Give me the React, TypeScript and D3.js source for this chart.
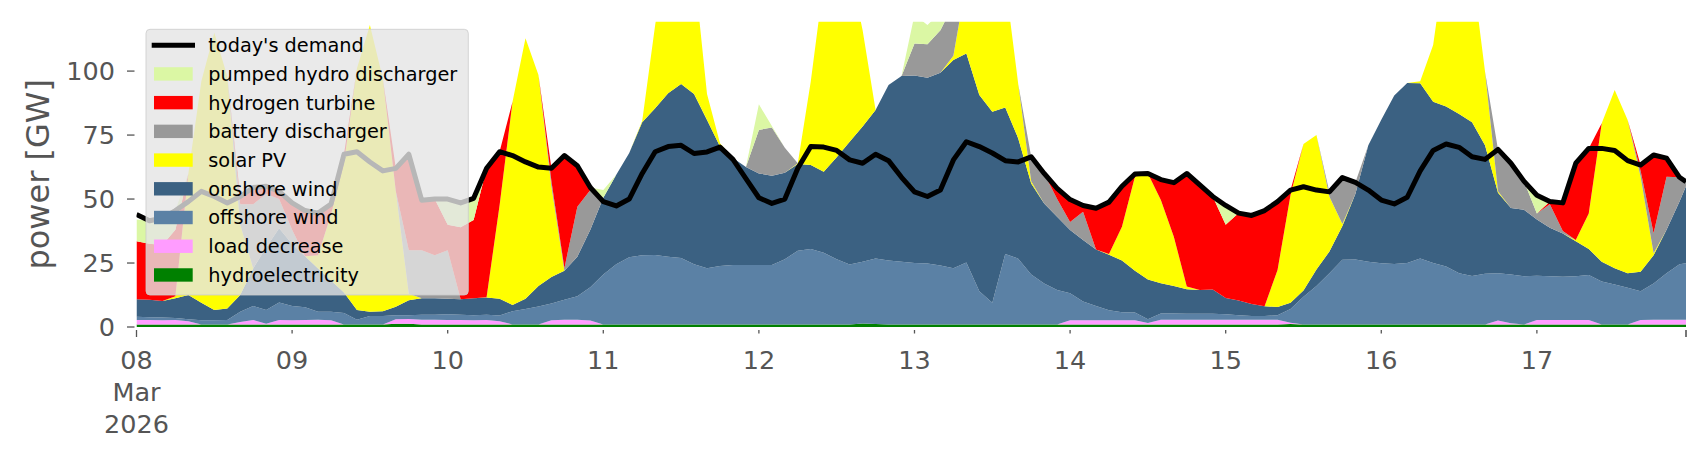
import React from 'react';
import * as d3 from 'd3';

const W = 1706;
const H = 460;
const START = Date.UTC(2026, 2, 8);
// sample hours after 08 Mar 2026 00:00 (2-hourly, plus final hour)
const HOURS: number[] = [...d3.range(0, 240, 2), 239];
const DAY_TICKS: number[] = d3.range(0, 10);
const Y_TICKS: number[] = [0, 25, 50, 75, 100];
const Y_MAX = 119.3;

const hydroelectricity = [
  1, 1, 1, 1, 1, 1, 1, 1, 1, 1, 1, 1,
  1, 1, 1, 1, 1, 1, 1, 1, 1.3, 1.3, 1, 1,
  1, 1, 1, 1, 1, 1, 1, 1, 1, 1, 1, 1,
  1, 1, 1, 1, 1, 1, 1, 1, 1, 1, 1, 1,
  1, 1, 1, 1, 1, 1, 1, 1, 1.4, 1.2, 1, 1,
  1, 1, 1, 1, 1, 1, 1, 1, 1, 1, 1, 1,
  1, 1, 1, 1, 1, 1, 1, 1, 1, 1, 1, 1,
  1, 1, 1, 1, 1, 1.2, 1, 1, 1, 1, 1, 1,
  1, 1, 1, 1, 1, 1, 1, 1, 1, 1, 1, 1,
  1, 1, 1, 1, 1, 1, 1, 1, 1, 1, 1, 1, 1,
];
const loadDecrease = [
  1.7, 1.7, 1.6, 1.7, 1.2, 0, 0, 0, 1.0, 1.7, 0.3, 1.7,
  1.6, 1.7, 1.8, 1.6, 0, 0, 0, 0, 1.7, 1.8, 1.8, 1.8,
  1.7, 1.7, 1.6, 1.7, 1.2, 0, 0, 0, 1.6, 1.8, 1.8, 1.5,
  0, 0, 0, 0, 0, 0, 0, 0, 0, 0, 0, 0,
  0, 0, 0, 0, 0, 0, 0, 0, 0, 0, 0, 0,
  0, 0, 0, 0, 0, 0, 0, 0, 0, 0, 0, 0,
  1.6, 1.6, 1.6, 1.6, 1.6, 1.6, 0.6, 1.8, 1.8, 1.8, 1.8, 1.8,
  1.8, 1.8, 1.8, 1.8, 1.8, 0.5, 0, 0, 0, 0, 0, 0,
  0, 0, 0, 0, 0, 0, 0, 0, 0, 1.5, 0.5, 0,
  1.7, 1.7, 1.7, 1.7, 1.7, 0, 0, 0, 1.7, 1.8, 1.8, 1.8, 1.8,
];
const offshoreWind = [
  1.3, 1.1, 1.1, 0.8, 0.8, 1.6, 1.6, 1.7, 4.0, 5.5, 5.3, 6.9,
  5.6, 5.0, 3.2, 3.4, 4.5, 1.8, 3.3, 3.3, 1.6, 1.5, 2.0, 2.0,
  2.3, 2.1, 2.0, 2.1, 2.3, 5.2, 6, 7, 6.6, 7.8, 9.2, 13,
  19.5, 23.5, 26.3, 27, 27.1, 26.5, 26, 23.5, 22, 22.8, 23.2, 23.2,
  23.2, 23.2, 25.5, 28.8, 29.5, 28, 25.5, 23.4, 24.1, 25.6, 25, 24.5,
  24, 23.8, 23, 22, 24.2, 13, 8.5, 27.5, 25.7, 19.5, 16, 13.5,
  10.6, 7.4, 5.6, 3.9, 3.2, 3.1, 1.4, 2.5, 2.5, 2.4, 2.4, 2.4,
  2.2, 1.8, 1.5, 1.5, 1.8, 5.3, 10.8, 15, 20, 25.3, 25.4, 24.5,
  23.9, 23.6, 24, 25.8, 24, 22.6, 20, 18.9, 19.8, 18.5, 19, 18.8,
  17.3, 17.1, 16.9, 17.1, 17.6, 16.8, 15.6, 14.3, 11.3, 14.2, 18.2, 21.7, 22.1,
];
const onshoreWind = [
  6.8, 6.8, 6.5, 7.7, 9.5, 6.9, 4.0, 4.5, 6.5, 14.7, 24.5, 29,
  24.2, 19.9, 16.9, 12.2, 8.0, 3.8, 1.7, 1.9, 3.3, 5.9, 6.4, 6.4,
  6.0, 6.0, 6.6, 6.7, 6.5, 2.4, 4, 8, 10.3, 11.4, 15.5, 22.5,
  30, 35, 40.7, 52, 57.4, 63.8, 68, 66.5, 57.9, 46.7, 41.8, 38.3,
  35.8, 34.9, 33.8, 33.9, 32.8, 31.7, 39.8, 48, 52.8, 58, 68.6, 72.6,
  73.3, 72.6, 75.4, 81.3, 81.7, 76.7, 74.6, 57.3, 47, 35.6, 31.3, 28.6,
  24.7, 24, 22.1, 21.7, 20.2, 16.3, 15.6, 11.8, 10.7, 9.6, 9.3, 9.5,
  6.3, 5.8, 4.7, 3.8, 3.2, 2.5, 2.5, 6.5, 8.5, 13.2, 25.6, 45.5,
  56.1, 65.9, 70.3, 68.4, 63, 62.6, 62.2, 60.1, 50.2, 31.5, 26, 26,
  22, 19, 16.9, 13.7, 10.2, 7.7, 6.4, 5.7, 7.6, 11, 17, 24.5, 30.1,
];
const solarPV = [
  0, 0, 0, 0.8, 47.5, 86.5, 108.4, 90.8, 27.5, 0.1, 0, 0,
  0, 0, 5.1, 25.8, 50.5, 94.4, 112, 90.8, 45.1, 2.5, 0, 0,
  0, 0, 0, 0.1, 36.5, 79.4, 101.8, 82.5, 35.3, 0, 0, 0,
  0, 0, 0, 0.5, 32.5, 58.7, 70, 49, 10.1, 1.3, 0, 0,
  0, 0, 0, 0.3, 32.6, 74.3, 83.7, 67.6, 37.7, 0, 0, 0,
  0, 0, 0, 1.7, 28.1, 59.3, 65.9, 49.2, 21.3, 0.9, 0, 0,
  0, 0, 0, 0.3, 13.2, 36.7, 41.4, 32.5, 19.3, 1, 0, 0,
  0, 0, 0, 0, 14.5, 42.1, 57.2, 52.5, 21.4, 0.7, 0, 0,
  0, 0, 0, 0.8, 22.2, 59.8, 74.8, 60, 28.8, 0.5, 0, 0,
  0, 0, 0, 0.5, 13.9, 54.1, 69.6, 59.9, 37.1, 0.8, 0, 0, 0,
];
const batteryDischarger = [
  0, 0, 0, 0, 0, 0, 0, 0, 8, 25, 20.9, 11.4,
  5.6, 0, 0, 0, 0, 0, 0, 0, 0, 17, 18.8, 16.8,
  19, 0, 0, 0, 0, 0, 0, 0, 2.2, 1, 19.5, 15.5,
  0, 0, 0, 0, 0, 0, 0, 0, 0, 0, 0, 0,
  17, 18.9, 9.7, 0, 0, 0, 0, 0, 0, 0, 0, 0,
  12.5, 13.1, 16.6, 20, 0, 0, 0, 0, 0, 9.5, 11.7, 6.9,
  3.1, 11, 0, 0, 0, 0, 0, 0, 0, 0, 0, 0,
  0, 0, 0, 0, 0, 0, 0, 0, 1.9, 18.2, 4.5, 0,
  0, 0, 0, 0, 0, 0, 0, 0, 0, 16.4, 17.5, 11.2,
  2.4, 9.2, 1, 0, 0, 0, 0, 0, 2.3, 7.8, 20.7, 9.5, 1.8,
];
const hydrogenTurbine = [
  22.7, 21.9, 21.8, 26, 0, 0, 0, 0, 3, 6.5, 3, 3,
  10.5, 17.9, 16.5, 4, 3.5, 0, 0, 0, 9, 37.5, 19.5, 22,
  10, 28.2, 30.6, 50.4, 21, 0, 0, 0, 5, 44, 16, 1,
  0, 0, 0, 0, 0, 0, 0, 0, 0, 0, 0, 0,
  0, 0, 0, 0, 0, 0, 0, 0, 0, 0, 0, 0,
  0, 0, 0, 0, 0, 0, 0, 0, 0, 0, 0, 4.2,
  8.8, 2.5, 16.1, 20.3, 15.8, 1.1, 0, 8, 21.1, 44.2, 41, 36.3,
  28.7, 34.1, 34.6, 37.4, 26.7, 1.9, 0, 0, 0, 0, 0, 0,
  0, 0, 0, 0, 0, 0, 0, 0, 0, 0, 0, 0,
  0, 1, 11, 30, 25.4, 0, 0, 0, 2.3, 30.6, 7.3, 0, 0,
];
const pumpedHydroDischarger = [
  8.5, 9.0, 10.5, 7.5, 0, 0, 0, 0, 0, 0, 0, 0,
  0, 0, 0, 0, 0, 0, 0, 0, 0, 0, 0, 0,
  10, 9.5, 8.5, 0, 0, 0, 0, 0, 0, 0, 0, 0,
  3, 0, 0, 0, 0, 0, 0, 0, 0, 0, 0, 0,
  10, 0.5, 0, 0, 0, 0, 0, 0, 0, 0, 0, 0,
  11.2, 7.5, 7, 0, 0, 0, 0, 0, 0, 0, 0, 0,
  0, 0, 0, 0, 0, 0, 0, 0, 0, 0, 0, 0,
  7.5, 0, 0, 0, 0, 0, 0, 0, 0, 0, 0, 0,
  0, 0, 0, 0, 0, 0, 0, 0, 0, 0, 0, 0,
  7.1, 0, 0, 0, 0, 0, 0, 0, 0, 0, 0, 0, 0,
];
const todaysDemand = [
  44.0, 41.5, 42.5, 45.5, 49, 53, 51, 48.5, 51, 54.5, 55, 53,
  48.5, 45.5, 44.5, 48, 67.5, 68.5, 64.5, 61, 62, 67.5, 49.5, 50,
  50, 48.5, 50.3, 62, 68.5, 67, 64.5, 62.5, 62, 67, 63, 54.5,
  49, 47.3, 50, 60, 68.5, 70.5, 71, 67.8, 68.4, 70.3, 65.5, 58,
  50.5, 48.3, 50, 62, 70.5, 70.3, 69, 65.3, 64, 67.5, 65, 58.5,
  52.8, 51, 53.5, 65.3, 72.4, 70.5, 68, 65, 64.5, 66.5, 60, 54.2,
  49.8, 47.5, 46.4, 48.8, 55, 59.8, 60, 57.6, 56.4, 60, 55.5, 51,
  47.5, 44.5, 43.6, 45.5, 49, 53.5, 54.8, 53.5, 52.8, 58.4, 56.5, 53.5,
  49.6, 48.1, 50.7, 61, 69, 71.5, 70.2, 66.5, 65.5, 69.4, 64, 57,
  51.5, 49, 48.5, 64, 69.8, 69.8, 69, 65, 63.3, 67.2, 66, 58.5, 56.8,
];

const SERIES = [
  { key: 'hydro', label: 'hydroelectricity', color: '#008000', values: hydroelectricity },
  { key: 'load', label: 'load decrease', color: '#ff9cff', values: loadDecrease },
  { key: 'offwind', label: 'offshore wind', color: '#5b81a5', values: offshoreWind },
  { key: 'onwind', label: 'onshore wind', color: '#3b6182', values: onshoreWind },
  { key: 'solar', label: 'solar PV', color: '#ffff00', values: solarPV },
  { key: 'battery', label: 'battery discharger', color: '#999999', values: batteryDischarger },
  { key: 'h2', label: 'hydrogen turbine', color: '#ff0000', values: hydrogenTurbine },
  { key: 'phs', label: 'pumped hydro discharger', color: '#dbf7a4', values: pumpedHydroDischarger },
];

const X0 = 136.5;
const X1 = 1686;
const Y0 = 327;
const Y1 = 21.7;
const FONT = 'DejaVu Sans, sans-serif';
const TICK_COLOR = '#555555';

export default function App() {
  const times = HOURS.map((h) => new Date(START + h * 3600e3));
  const x = d3.scaleUtc().domain([times[0], times[times.length - 1]]).range([X0, X1]);
  const y = d3.scaleLinear().domain([0, Y_MAX]).range([Y0, Y1]);

  const rows = HOURS.map((_, i) => {
    const r: Record<string, number> = { i };
    SERIES.forEach((s) => (r[s.key] = s.values[i]));
    return r;
  });
  const stacked = d3.stack<Record<string, number>>().keys(SERIES.map((s) => s.key))(rows);
  const area = d3
    .area<d3.SeriesPoint<Record<string, number>>>()
    .x((d) => x(times[d.data.i]))
    .y0((d) => y(d[0]))
    .y1((d) => y(d[1]))
    .curve(d3.curveLinear);
  const line = d3
    .line<number>()
    .x((_, i) => x(times[i]))
    .y((d) => y(d))
    .curve(d3.curveLinear);

  const dayTimes = DAY_TICKS.map((d) => new Date(START + d * 86400e3));
  const fmtDay = d3.utcFormat('%d');

  const legendItems = [
    { label: "today's demand", line: true, color: '#000000' },
    ...SERIES.slice().reverse().map((s) => ({ label: s.label, line: false, color: s.color })),
  ];
  const LX = 146;
  const LY = 29.3;
  const LW = 322.3;
  const LH = 265.7;
  const rowY0 = 45.2;
  const rowStep = 28.72;

  return (
    <svg
      width={W}
      height={H}
      style={{ position: 'absolute', left: 0, top: 0, background: '#ffffff' }}
      fontFamily={FONT}
    >
      <defs>
        <clipPath id="plotArea">
          <rect x={X0} y={Y1} width={X1 - X0} height={Y0 - Y1} />
        </clipPath>
      </defs>
      <rect x={0} y={0} width={W} height={H} fill="#ffffff" />
      <g clipPath="url(#plotArea)">
        {stacked.map((layer, k) => (
          <path key={layer.key} d={area(layer) || ''} fill={SERIES[k].color} stroke="none" />
        ))}
      </g>
      <path
        d={line(todaysDemand) || ''}
        fill="none"
        stroke="#000000"
        strokeWidth={5}
        strokeLinejoin="round"
        strokeLinecap="butt"
        clipPath="url(#plotArea)"
      />

      {/* y axis */}
      {Y_TICKS.map((t) => (
        <g key={t}>
          <line x1={127} x2={134.5} y1={y(t)} y2={y(t)} stroke={TICK_COLOR} strokeWidth={1.3} />
          <text
            x={115}
            y={y(t)}
            dy="0.36em"
            textAnchor="end"
            fontSize={25.5}
            fill={TICK_COLOR}
          >
            {t}
          </text>
        </g>
      ))}
      <text
        transform={`translate(48.5, ${(Y0 + Y1) / 2}) rotate(-90)`}
        textAnchor="middle"
        fontSize={32}
        fill={TICK_COLOR}
      >
        power [GW]
      </text>

      {/* x axis */}
      {dayTimes.map((d, i) => (
        <g key={i}>
          <line
            x1={x(d)}
            x2={x(d)}
            y1={330}
            y2={i === 0 ? 337 : 333.5}
            stroke={TICK_COLOR}
            strokeWidth={1.3}
          />
          <text x={x(d)} y={368.5} textAnchor="middle" fontSize={25.5} fill={TICK_COLOR}>
            {fmtDay(d)}
          </text>
          {i === 0 && (
            <>
              <text x={x(d)} y={401} textAnchor="middle" fontSize={25.5} fill={TICK_COLOR}>
                {d3.utcFormat('%b')(d)}
              </text>
              <text x={x(d)} y={433} textAnchor="middle" fontSize={25.5} fill={TICK_COLOR}>
                {d3.utcFormat('%Y')(d)}
              </text>
            </>
          )}
        </g>
      ))}
      <line
        x1={x(times[times.length - 1])}
        x2={x(times[times.length - 1])}
        y1={330}
        y2={337}
        stroke={TICK_COLOR}
        strokeWidth={1.6}
      />

      {/* legend */}
      <rect
        x={LX}
        y={LY}
        width={LW}
        height={LH}
        rx={4}
        ry={4}
        fill="#e5e5e5"
        fillOpacity={0.8}
        stroke="#cccccc"
        strokeOpacity={0.8}
        strokeWidth={1}
      />
      {legendItems.map((it, i) => {
        const cy = rowY0 + i * rowStep;
        return (
          <g key={it.label}>
            {it.line ? (
              <line x1={151.7} x2={195} y1={cy} y2={cy} stroke={it.color} strokeWidth={5} />
            ) : (
              <rect x={154} y={cy - 6.7} width={38.7} height={13.4} fill={it.color} />
            )}
            <text x={208.3} y={cy} dy="0.36em" fontSize={19.3} fill="#000000">
              {it.label}
            </text>
          </g>
        );
      })}
    </svg>
  );
}
